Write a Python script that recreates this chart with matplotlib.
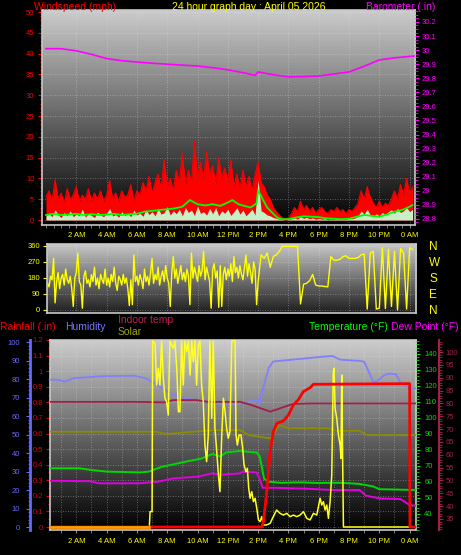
import numpy as np
import matplotlib
matplotlib.use("Agg")
import matplotlib.pyplot as plt
from matplotlib.ticker import MultipleLocator

plt.rcParams['font.family'] = ['Liberation Sans', 'DejaVu Sans']

W, H = 461, 555

# ---------------- data ----------------
hour_ticks = [2, 4, 6, 8, 10, 12, 14, 16, 18, 20, 22, 24]
hour_labels = ['2 AM', '4 AM', '6 AM', '8 AM', '10 AM', '12 PM', '2 PM', '4 PM',
               '6 PM', '8 PM', '10 PM', '0 AM']

# wind, 12-minute samples starting at midnight
wind_step_h = 0.2
gust_mph = [5.5, 7, 4.5, 9.6, 5, 6.5, 4, 7.5, 5, 6, 8, 4.5, 6, 5, 7.5, 4.5, 6.5, 5, 7, 4.5,
            6, 9.5, 5, 6.5, 4.5, 7, 5.5, 6, 8.5, 4.5, 7, 6, 9, 7, 10.5, 6.5, 9, 11, 7.5, 14.5,
            8, 10, 7, 12, 9, 16, 8.5, 12, 9, 19, 10, 14, 9.5, 16.5, 11, 13, 8.5, 15, 10, 12.5,
            9, 14.5, 8, 11, 7.5, 12, 8, 10.5, 7, 11, 14, 9, 8, 6, 5, 3, 2, 1.2, 0.5, 0.3,
            0.5, 1.5, 3, 2, 4.5, 2.5, 3.5, 2, 3, 1.5, 2.5, 3, 2, 1.5, 2.5, 2, 3, 2, 2.5, 1.5,
            2.5, 2, 3, 4, 7, 5, 8, 5.5, 4, 3, 4.5, 3, 4, 3.5, 5, 7, 5, 8.5, 6, 10,
            6.5, 8]
speed_mph = [1.0, 1.5, 0.8, 2.5, 1.2, 0.6, 1.8, 1.0, 2.2, 0.8, 1.4, 1.0, 2.6, 0.7, 1.5, 1.1,
             0.6, 1.9, 1.2, 0.8, 1.6, 2.8, 1.0, 1.3, 0.7, 2.0, 1.1, 1.5, 0.8, 2.4, 1.2,
             1.6, 0.9, 2.5, 1.3, 2.0, 1.0, 2.8, 1.4, 1.8, 3.2, 1.2, 2.2, 1.5, 2.6, 1.0, 3.0,
             1.8, 2.4, 1.1, 3.4, 1.6, 2.0, 1.2, 2.8, 1.5, 3.0, 1.0, 2.2, 1.6, 2.6, 1.1, 2.0,
             3.0, 1.4, 2.4, 1.0, 1.8, 2.6, 1.2,
             9.6,
             2.2, 1.8, 1.2, 1.0, 0.6, 0.4, 0.2,
             0.1, 0.0, 0.1, 0.3, 0.5, 0.2, 0.8, 0.4, 0.6, 0.3, 0.5, 0.2, 0.4, 0.2, 0.3, 0.1,
             0.2, 0.1, 0.3, 0.2, 0.1, 0.2, 0.4, 0.3, 0.5,
             1.0, 2.2, 1.4, 2.6, 1.2, 0.8, 1.5, 1.0, 1.8, 1.3, 2.0, 2.5, 1.6, 2.8, 1.8, 2.2,
             3.0, 2.0, 2.6]
avg_hours = [0, 0.5, 1, 1.5, 2, 2.5, 3, 3.5, 4, 4.5, 5, 5.5, 6, 6.5, 7, 7.5, 8, 8.5, 9, 9.5,
             10, 10.5, 11, 11.5, 12, 12.3, 12.7, 13, 13.5, 13.9, 14.0, 14.3, 14.6, 15, 15.3,
             15.6, 16, 16.5, 17, 17.5, 18, 18.5, 19, 19.5, 20, 20.5, 21, 21.5, 22, 22.5, 23,
             23.5, 24, 24.2]
avg_mph = [1.2, 1.5, 1.2, 1.3, 1.5, 1.2, 1.4, 1.2, 1.3, 1.5, 1.2, 1.4, 1.5, 2.0, 2.2, 2.4,
           2.6, 2.8, 3.2, 4.8, 3.8, 3.5, 3.8, 3.4, 4.2, 4.8, 3.8, 3.5, 3.0, 4.0, 7.2, 5.0,
           3.0, 1.5, 0.5, 0.2, 0.2, 0.6, 0.9, 0.8, 0.7, 0.4, 0.3, 0.2, 0.3, 0.8, 1.2, 1.0,
           0.8, 1.3, 2.0, 2.4, 3.2, 3.6]

baro_hours = [0, 1, 2, 3, 4, 5, 6, 7, 8, 9, 10, 11, 12, 13, 13.8, 14.0, 14.5, 15, 16, 17,
              18, 19, 20, 21, 22, 23, 24.3]
baro_inhg = [30.01, 30.01, 29.995, 29.97, 29.94, 29.925, 29.915, 29.907, 29.90, 29.893,
             29.887, 29.875, 29.86, 29.84, 29.82, 29.845, 29.835, 29.825, 29.81, 29.812,
             29.816, 29.83, 29.845, 29.885, 29.93, 29.945, 29.958]

# wind direction: 6-minute samples until 14:00, then 12-minute samples
dir_deg_morning = [150, 130, 190, 170, 290, 40, 160, 210, 120, 180,
                   200, 140, 230, 170, 150, 190, 120, 20, 180, 210,
                   320, 160, 140, 10, 190, 220, 150, 170, 130, 200,
                   160, 240, 140, 180, 120, 200, 170, 150, 230, 140,
                   180, 130, 200, 160, 240, 150, 110, 190, 170, 140,
                   200, 150, 180, 120, 25, 170, 30, 310, 160, 190,
                   140, 200, 170, 120, 230, 160, 190, 140, 210, 290,
                   150, 200, 170, 240, 140, 190, 220, 160, 250, 180,
                   150, 20, 210, 300, 180, 230, 150, 200, 250, 170,
                   210, 160, 230, 190, 30, 320, 180, 240, 200, 160,
                   250, 190, 220, 330, 170, 240, 200, 160, 10, 230,
                   260, 180, 220, 15, 250, 20, 200, 240, 170, 230,
                   190, 260, 160, 300, 210, 240, 180, 250, 200, 170,
                   240, 310, 190, 260, 210, 150, 270, 230, 30, 160]
dir_deg_evening = [310, 290, 320, 240, 300, 310, 330, 358, 358, 358,
                   358, 358, 358, 34, 145, 150, 165, 200, 140, 135,
                   135, 132, 130, 300, 280, 280, 285, 300, 305, 290,
                   290, 290, 295, 310, 315, 5, 320, 330, 5, 10,
                   350, 8, 340, 20, 330, 0, 345, 320, 5, 350, 340]
compass_ticks = [0, 90, 180, 270, 360]
compass_labels = ['N', 'E', 'S', 'W', 'N']

hum_hours = [0, 0.9, 1.2, 1.8, 3.6, 5.8, 6.6, 7.3, 8.4, 9.5, 11.0, 12.1, 13.2, 14.0, 14.1,
             14.3, 14.7, 15.0, 16.3, 17.9, 18.9, 19.4, 20.7, 21.0, 21.6, 21.8, 22.3, 22.7,
             23.1, 23.4, 24.0, 24.5]
hum_pct = [79.8, 79.5, 78.5, 80.4, 81.5, 81.8, 80.4, 77, 71.4, 69, 67, 66, 67.5, 69, 66.5,
           74, 86, 89.5, 90.5, 91.8, 92.5, 90.5, 89.8, 89.4, 78.5, 78.5, 82, 83, 82.5, 78,
           75, 75]

temp_hours = [0, 2.2, 3.0, 4.0, 6.2, 6.8, 7.2, 7.7, 8.4, 9.2, 10.2, 11.0, 11.3, 11.5, 11.9,
              12.8, 13.4, 13.9, 14.1, 14.4, 14.7, 15.5, 16.8, 17.9, 18.8, 19.5, 20.7, 21.6,
              22.0, 24.5]
temp_f = [68.6, 68.6, 67.5, 66.5, 66.0, 66.5, 68, 69.6, 71, 72.7, 74.5, 77.5, 76.5, 76, 78.5,
          79.4, 78.8, 78.5, 76, 62, 60.2, 59.5, 59.8, 59.4, 59.5, 59.5, 58.8, 57.2, 55.5, 55.0]

dew_hours = [0, 2.9, 3.5, 6.2, 7.4, 8.4, 10.0, 11.0, 11.5, 12.8, 13.0, 13.9, 14.1, 14.3,
             15.0, 17.2, 18.9, 20.7, 21.1, 22.0, 23.4, 24.0, 24.5]
dew_f = [60.8, 60.5, 59.2, 59.2, 60.2, 62.3, 63.3, 65.4, 64.5, 65.4, 66.5, 66, 62, 56.4,
         56.4, 55.8, 55.0, 55.0, 51.5, 49.8, 49.3, 45.6, 45.0]

indoor_hours = [0, 6.0, 7.8, 8.4, 9.9, 10.7, 12.8, 13.5, 14.8, 16.3, 17.5, 24.5]
indoor_f = [80.6, 80.6, 80.4, 81.3, 81.3, 80.6, 80.6, 79.5, 76.8, 79.8, 80.0, 80.0]

olive_hours = [0, 0.3, 7.3, 7.9, 9.0, 11.0, 12.8, 13.4, 14.8, 15.4, 16.0, 18.7, 19.2, 20.7,
               21.2, 24.5]
olive_vals = [52.8, 51.5, 51.5, 50.3, 51, 52.4, 52.4, 49.7, 47.9, 55.1, 53.4, 53.4, 52, 52,
              49.7, 49.7]

rain_hours = [0, 14.24, 14.35, 14.57, 14.79, 15.0, 15.23, 15.66, 16.0, 16.32, 16.65, 16.98,
              17.43, 17.65, 24.0, 24.02, 24.5]
rain_in = [0, 0, 0.034, 0.225, 0.48, 0.607, 0.66, 0.675, 0.713, 0.777, 0.81, 0.862, 0.887,
           0.909, 0.913, 0, 0]

solar_hours = [0, 6.82, 6.87, 7.00, 7.04, 7.20, 7.30, 7.41, 7.52, 7.63, 7.74, 7.85, 7.96,
               8.07, 8.18, 8.40, 8.51, 8.63, 8.74, 8.84, 8.95, 9.06, 9.17, 9.29, 9.40, 9.51,
               9.62, 9.72, 9.83, 9.94, 10.05, 10.16, 10.27, 10.38, 10.49, 10.60, 10.71, 10.82,
               10.94, 11.04, 11.15, 11.27, 11.38, 11.48, 11.60, 11.71, 11.82, 11.92, 12.03,
               12.14, 12.26, 12.37, 12.48, 12.54, 12.63, 12.74, 12.87, 12.98, 13.07, 13.20,
               13.29, 13.38, 13.47, 13.58, 13.69, 13.80, 13.91, 14.02, 14.13, 14.24, 14.35,
               14.56, 14.79, 15.00, 15.22, 15.45, 15.67, 15.89, 16.11, 16.33, 16.55, 16.77,
               16.99, 17.21, 17.43, 17.65, 17.87, 18.09, 18.20, 18.31, 18.42, 18.53, 18.64,
               18.75, 18.86, 18.96, 19.01, 19.08, 19.19, 19.30, 19.41, 19.47, 19.52, 19.56,
               19.63, 24.5]
solar_wm2 = [0, 0, 98, 98, 1185, 1170, 904, 1011, 904, 1185, 947, 820, 798, 713, 1185, 1138,
             1185, 1011, 734, 734, 1185, 904, 1185, 1117, 1185, 968, 1185, 1053, 1185, 904,
             1159, 1185, 904, 798, 522, 416, 586, 1185, 692, 1185, 629, 480, 331, 225, 586,
             820, 734, 629, 565, 607, 1185, 1185, 1185, 586, 522, 586, 586, 501, 395, 352,
             374, 246, 183, 225, 161, 183, 119, 45, 34, 66, 13, 13, 23, 66, 108, 87, 76, 87,
             66, 76, 66, 76, 98, 55, 45, 87, 76, 183, 140, 161, 108, 140, 55, 161, 331, 989,
             1011, 756, 692, 586, 522, 437, 968, 586, 0, 0]

# ---------------- helpers ----------------
fig = plt.figure(figsize=(W / 100, H / 100), dpi=100, facecolor='black')


def rect(l, t, r, b):
    return [l / W, 1 - b / H, (r - l) / W, (b - t) / H]


def gradient(ax, top, bottom):
    g = np.linspace(top, bottom, 256).reshape(-1, 1)
    ax.imshow(g, cmap='gray', vmin=0, vmax=1, aspect='auto', extent=(0, 1, 0, 1),
              transform=ax.transAxes, zorder=0, interpolation='bilinear')


def frame(ax, color='#c8c8c8'):
    for s in ax.spines.values():
        s.set_color(color)
        s.set_linewidth(1.2)


def hide(ax):
    for s in ax.spines.values():
        s.set_visible(False)


GRID = dict(color='#e8e8e8', linestyle=(0, (1, 2)), linewidth=0.6, alpha=0.45)
LS = 5.5

# ---------------- top panel: wind speed + barometer ----------------
ax1 = fig.add_axes(rect(42, 10, 415, 225))
gradient(ax1, 0.80, 0.0)
wind_hours = np.arange(len(gust_mph)) * wind_step_h
ax1.fill_between(wind_hours, 0, gust_mph, color='#ff0000', lw=0, zorder=2)
ax1.plot(wind_hours, gust_mph, color='#ff0000', lw=0.8, zorder=2)
sp_hours = np.arange(len(speed_mph)) * wind_step_h
ax1.fill_between(sp_hours, 0, speed_mph, color='#c8f0c8', lw=0, zorder=3)
ax1.plot(avg_hours, avg_mph, color='#00ff00', lw=1.3, zorder=4)
ax1.set_xlim(-0.264, 24.356)
ax1.set_ylim(-1.2, 50.5)
ax1.set_xticks(hour_ticks)
ax1.set_xticklabels(hour_labels)
ax1.xaxis.set_minor_locator(MultipleLocator(0.5))
ax1.tick_params(axis='x', which='both', colors='#909090', labelcolor='#ffff00',
                labelsize=LS, length=2, pad=3)
ax1.set_yticks(np.arange(0, 51, 5))
ax1.yaxis.set_minor_locator(MultipleLocator(1))
ax1.tick_params(axis='y', which='both', colors='#ff0000', labelsize=LS, pad=2.5)
ax1.tick_params(axis='y', which='major', length=3)
ax1.tick_params(axis='y', which='minor', length=1.8)
ax1.set_axisbelow(True)
ax1.grid(True, which='major', **GRID)
frame(ax1)

ax1b = ax1.twinx()
ax1b.plot(baro_hours, baro_inhg, color='#ff00ff', lw=1.2)
ax1b.set_ylim(28.757, 30.285)
bt = [28.8, 28.9, 29.0, 29.1, 29.2, 29.3, 29.4, 29.5, 29.6, 29.7, 29.8, 29.9, 30.0, 30.1, 30.2]
ax1b.set_yticks(bt)
ax1b.set_yticklabels([('%g' % v) for v in bt])
ax1b.yaxis.set_minor_locator(MultipleLocator(0.025))
ax1b.tick_params(axis='y', which='both', colors='#ff00ff', labelsize=LS, pad=2)
ax1b.tick_params(axis='y', which='major', length=3)
ax1b.tick_params(axis='y', which='minor', length=1.8)
hide(ax1b)

# ---------------- middle panel: wind direction ----------------
ax2 = fig.add_axes(rect(47, 244, 416, 313))
gradient(ax2, 0.78, 0.12)
dir_hours = np.concatenate([np.arange(1, len(dir_deg_morning) + 1) * 0.1,
                            len(dir_deg_morning) * 0.1
                            + np.arange(1, len(dir_deg_evening) + 1) * 0.2])
dir_deg = dir_deg_morning + dir_deg_evening
ax2.plot(dir_hours, dir_deg, color='#ffff00', lw=1.0, zorder=2)
ax2.set_xlim(0.066, 24.42)
ax2.set_ylim(-17, 371)
ax2.set_xticks(hour_ticks)
ax2.set_xticklabels([])
ax2.tick_params(axis='x', length=0)
ax2.set_yticks([0, 90, 180, 270, 360])
ax2.tick_params(axis='y', colors='#ffff00', labelsize=LS, length=3, pad=2)
ax2.set_axisbelow(True)
ax2.grid(True, **GRID)
frame(ax2)

ax2c = ax2.twinx()
ax2c.set_ylim(-17, 371)
ax2c.set_yticks(compass_ticks)
ax2c.set_yticklabels(compass_labels)
ax2c.tick_params(axis='y', colors='#ffff00', labelsize=8.5, length=0, pad=9.5)
hide(ax2c)

# ---------------- bottom panel ----------------
R3 = rect(50, 340, 416, 530)
rain_lim = (-0.019, 1.191)
ax3 = fig.add_axes(R3)
gradient(ax3, 0.80, 0.0)
ax3.set_xlim(0.264, 24.42)
ax3.set_ylim(*rain_lim)
ax3.set_xticks(hour_ticks)
ax3.set_xticklabels(hour_labels)
ax3.xaxis.set_minor_locator(MultipleLocator(1))
ax3.tick_params(axis='x', which='both', colors='#909090', labelcolor='#ffff00',
                labelsize=LS, length=2.5, pad=3.5)
rt = [0, 0.1, 0.2, 0.3, 0.4, 0.5, 0.6, 0.7, 0.8, 0.9, 1.0, 1.1, 1.2]
ax3.set_yticks(rt)
ax3.set_yticklabels([('%g' % v) for v in rt])
ax3.yaxis.set_minor_locator(MultipleLocator(0.05))
ax3.tick_params(axis='y', which='both', colors='#e00000', labelsize=LS, pad=2)
ax3.tick_params(axis='y', which='major', length=3)
ax3.tick_params(axis='y', which='minor', length=1.8)
ax3.set_axisbelow(True)
ax3.grid(True, which='both', axis='x', **GRID)
ax3.grid(True, which='major', axis='y', **GRID)
frame(ax3)

# humidity axis (far left)
axh = ax3.twinx()
hide(axh)
axh.yaxis.tick_left()
axh.spines['left'].set_visible(True)
axh.spines['left'].set_position(('axes', -20 / 366))
axh.spines['left'].set_color('#6868ff')
axh.spines['left'].set_linewidth(2)
axh.set_ylim(-1.6, 101.1)
axh.set_yticks(np.arange(0, 101, 10))
axh.yaxis.set_minor_locator(MultipleLocator(2))
axh.tick_params(axis='y', which='both', colors='#6868ff', labelsize=LS, pad=4)
axh.tick_params(axis='y', which='major', length=3)
axh.tick_params(axis='y', which='minor', length=1.8)
axh.plot(hum_hours, hum_pct, color='#8080ff', lw=1.3)
axh.plot(olive_hours, olive_vals, color='#8c8c00', lw=1.3)

# indoor temp axis (far right)
axi = ax3.twinx()
hide(axi)
axi.spines['right'].set_visible(True)
axi.spines['right'].set_position(('axes', (439 - 50) / 366))
axi.spines['right'].set_color('#a0204a')
axi.spines['right'].set_linewidth(1.5)
axi.set_ylim(30.7, 104.7)
axi.set_yticks(np.arange(35, 101, 5))
axi.yaxis.set_minor_locator(MultipleLocator(1))
axi.tick_params(axis='y', which='both', colors='#a0204a', labelsize=LS, pad=2)
axi.tick_params(axis='y', which='major', length=3)
axi.tick_params(axis='y', which='minor', length=1.8)
axi.plot(indoor_hours, indoor_f, color='#a0204a', lw=1.3)

# outdoor temperature / dew point axis
axt = ax3.twinx()
hide(axt)
axt.set_ylim(30.0, 148.75)
axt.set_yticks(np.arange(40, 141, 10))
axt.yaxis.set_minor_locator(MultipleLocator(2))
axt.tick_params(axis='y', which='both', colors='#00e000', labelsize=LS, pad=3)
axt.tick_params(axis='y', which='major', length=3)
axt.tick_params(axis='y', which='minor', length=1.8)
axt.plot(temp_hours, temp_f, color='#00d800', lw=1.4)
axt.plot(dew_hours, dew_f, color='#e000e0', lw=1.4)

# solar
axs = ax3.twinx()
hide(axs)
axs.set_ylim(-19.1, 1191)
axs.set_yticks([])
axs.plot(solar_hours, solar_wm2, color='#ffff20', lw=1.1)

# rain on top
axr = ax3.twinx()
hide(axr)
axr.set_ylim(*rain_lim)
axr.set_yticks([])
axr.plot(rain_hours, rain_in, color='#ff0000', lw=2.0)
sv = np.array(solar_wm2)
sunrise = solar_hours[int(np.argmax(sv > 0)) - 1]
axr.plot([solar_hours[0], sunrise], [rain_in[0], rain_in[0]], color='#ffa000', lw=2.0)

# ---------------- texts ----------------
def ftext(x, y, s, color, ha='left', size=7.5):
    fig.text(x / W, 1 - y / H, s, color=color, ha=ha, va='center', fontsize=size)


ftext(34, 7, 'Windspeed (mph)', '#ff0000')
ftext(248.5, 7, '24 hour graph day : April 05 2026', '#ffff00', ha='center')
ftext(435, 7, 'Barometer (.in)', '#ff00ff', ha='right')
ftext(0, 327, 'Rainfall (.in)', '#ff0000')
ftext(65, 327, 'Humidity', '#7878ff')
ftext(118, 320, 'Indoor temp', '#c02050')
ftext(118, 332, 'Solar', '#a0a000')
ftext(388, 327, 'Temperature (\u00b0F)', '#00ff00', ha='right')
ftext(459, 327, 'Dew Point (\u00b0F)', '#ff00ff', ha='right')

fig.savefig('out.png', dpi=100, facecolor='black')
